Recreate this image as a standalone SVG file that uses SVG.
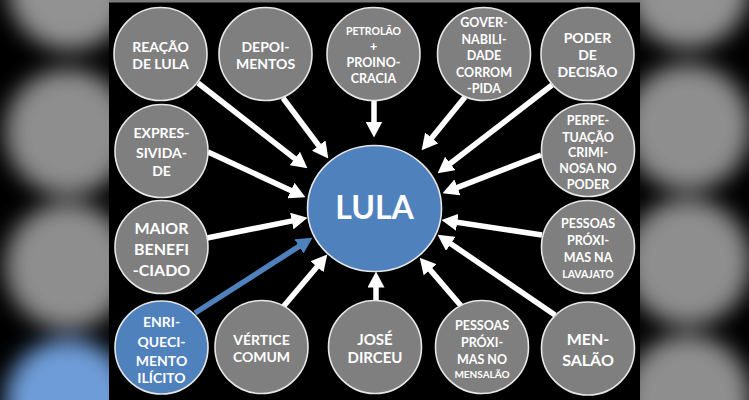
<svg xmlns="http://www.w3.org/2000/svg" width="749" height="400" viewBox="0 0 749 400">
<defs>
<style>
.n{fill:#7f7f7f;stroke:#e6e6e6;stroke-width:1.6}
.b{fill:#4f81bd;stroke:#e6e6e6;stroke-width:1.6}
text{font-family:Lato,"Liberation Sans",sans-serif;font-weight:bold;fill:#ffffff;text-anchor:middle}
.c{stroke:#ffffff;stroke-width:5.5;fill:none;marker-end:url(#aw)}
.cb{stroke:#4f81bd;stroke-width:5.5;fill:none;marker-end:url(#ab)}
</style>
<marker id="aw" markerUnits="userSpaceOnUse" viewBox="0 0 16 17" markerWidth="16" markerHeight="17" refX="0.5" refY="8.5" orient="auto"><path d="M0,0 L16,8.5 L0,17 z" fill="#ffffff"/></marker>
<marker id="ab" markerUnits="userSpaceOnUse" viewBox="0 0 16 17" markerWidth="16" markerHeight="17" refX="0.5" refY="8.5" orient="auto"><path d="M0,0 L16,8.5 L0,17 z" fill="#4f81bd"/></marker>
<filter id="blur" x="-50%" y="-50%" width="200%" height="200%"><feGaussianBlur stdDeviation="11"/></filter>
</defs>
<rect width="749" height="400" fill="#000000"/>
<g id="backdrop" filter="url(#blur)">
<circle cx="70" cy="-12" r="62" fill="#929292"/>
<circle cx="68" cy="132" r="63" fill="#8e8e8e"/>
<circle cx="68" cy="266" r="63" fill="#8e8e8e"/>
<circle cx="68" cy="402" r="63" fill="#6e9cd8"/>
<circle cx="688" cy="-14" r="62" fill="#929292"/>
<circle cx="688" cy="127" r="63" fill="#8e8e8e"/>
<circle cx="688" cy="262" r="63" fill="#8e8e8e"/>
<circle cx="688" cy="398" r="63" fill="#8e8e8e"/>
</g>
<rect x="109" y="0" width="531" height="400" fill="#000000"/>
<rect x="109" y="0" width="531" height="2.5" fill="#7a7a7a"/>
<g id="connectors">
<path class="c" d="M198,83 L295.2,158.8"/>
<path class="c" d="M283,98 L319,146"/>
<path class="c" d="M374,100 L374,122"/>
<path class="c" d="M465,97 L431.4,138.3"/>
<path class="c" d="M552,85 L449.9,163.8"/>
<path class="c" d="M541,155 L457,187.6"/>
<path class="c" d="M208,152 L291.4,190.7"/>
<path class="c" d="M207,238 L292.3,220.9"/>
<path class="cb" d="M195,313 L299.4,246.1"/>
<path class="c" d="M283,307 L317.3,266.4"/>
<path class="c" d="M376,300 L376,287"/>
<path class="c" d="M462,307 L429.8,269.4"/>
<path class="c" d="M555,315 L450.4,243.5"/>
<path class="c" d="M542,235 L456.8,222.2"/>
</g>
<g id="lula"><ellipse class="b" cx="374.5" cy="208.5" rx="67" ry="63"/><text x="374.5" y="219" font-size="32">LULA</text></g>
<g id="reacao"><circle class="n" cx="160.5" cy="54" r="46.5"/><text x="160.5" font-size="14"><tspan x="160.5" y="51.5">REAÇÃO</tspan><tspan x="160.5" y="69.3">DE LULA</tspan></text></g>
<g id="depoimentos"><circle class="n" cx="265.5" cy="54" r="46.5"/><text x="265.5" font-size="14"><tspan x="265.5" y="51.5">DEPOI-</tspan><tspan x="265.5" y="69.3">MENTOS</tspan></text></g>
<g id="petrolao"><circle class="n" cx="373.5" cy="54" r="46.5"/><text x="373.5" font-size="10.5"><tspan x="373.5" y="35">PETROLÃO</tspan><tspan x="373.5" y="51" font-size="12.5">+</tspan><tspan x="373.5" y="67" font-size="12.5">PROINO-</tspan><tspan x="373.5" y="83" font-size="12.5">CRACIA</tspan></text></g>
<g id="governabilidade"><circle class="n" cx="484" cy="54" r="46.5"/><text x="484" font-size="12.5"><tspan x="484" y="27">GOVER-</tspan><tspan x="484" y="43.5">NABILI-</tspan><tspan x="484" y="60">DADE</tspan><tspan x="484" y="76.7">CORROM</tspan><tspan x="484" y="93.3">-PIDA</tspan></text></g>
<g id="poder-decisao"><circle class="n" cx="587.5" cy="54" r="46.5"/><text x="587.5" font-size="14"><tspan x="587.5" y="43">PODER</tspan><tspan x="587.5" y="59.5">DE</tspan><tspan x="587.5" y="76.5">DECISÃO</tspan></text></g>
<g id="expressividade"><circle class="n" cx="161.5" cy="151" r="46.5"/><text x="161.5" font-size="14"><tspan x="161.5" y="138">EXPRES-</tspan><tspan x="161.5" y="157.5">SIVIDA-</tspan><tspan x="161.5" y="176">DE</tspan></text></g>
<g id="maior-beneficiado"><circle class="n" cx="161.5" cy="247" r="46.5"/><text x="161.5" font-size="16"><tspan x="161.5" y="233.5">MAIOR</tspan><tspan x="161.5" y="255">BENEFI</tspan><tspan x="161.5" y="276">-CIADO</tspan></text></g>
<g id="enriquecimento"><circle class="b" cx="161.5" cy="347.5" r="46.5"/><text x="161.5" font-size="14"><tspan x="161.5" y="327">ENRI-</tspan><tspan x="161.5" y="347">QUECI-</tspan><tspan x="161.5" y="366">MENTO</tspan><tspan x="161.5" y="383">ILÍCITO</tspan></text></g>
<g id="perpetuacao"><circle class="n" cx="588" cy="150" r="46.5"/><text x="588" font-size="12.5"><tspan x="588" y="124.5">PERPE-</tspan><tspan x="588" y="141.5">TUAÇÃO</tspan><tspan x="588" y="157">CRIMI-</tspan><tspan x="588" y="173">NOSA NO</tspan><tspan x="588" y="188.5">PODER</tspan></text></g>
<g id="pessoas-lavajato"><circle class="n" cx="588" cy="247" r="46.5"/><text x="588" font-size="12.5"><tspan x="588" y="228">PESSOAS</tspan><tspan x="588" y="245">PRÓXI-</tspan><tspan x="588" y="262">MAS NA</tspan><tspan x="588" y="277.5" font-size="10.5">LAVAJATO</tspan></text></g>
<g id="mensalao"><circle class="n" cx="588" cy="348.5" r="46.5"/><text x="588" font-size="16"><tspan x="588" y="345">MEN-</tspan><tspan x="588" y="365.5">SALÃO</tspan></text></g>
<g id="vertice-comum"><circle class="n" cx="261.5" cy="347" r="46.5"/><text x="261.5" font-size="14"><tspan x="261.5" y="345">VÉRTICE</tspan><tspan x="261.5" y="362">COMUM</tspan></text></g>
<g id="jose-dirceu"><circle class="n" cx="375" cy="347" r="46.5"/><text x="375" font-size="15"><tspan x="375" y="345">JOSÉ</tspan><tspan x="375" y="363">DIRCEU</tspan></text></g>
<g id="pessoas-mensalao"><circle class="n" cx="482" cy="347" r="46.5"/><text x="482" font-size="12.5"><tspan x="482" y="330">PESSOAS</tspan><tspan x="482" y="347">PRÓXI-</tspan><tspan x="482" y="364">MAS NO</tspan><tspan x="482" y="377.5" font-size="10">MENSALÃO</tspan></text></g>
</svg>
